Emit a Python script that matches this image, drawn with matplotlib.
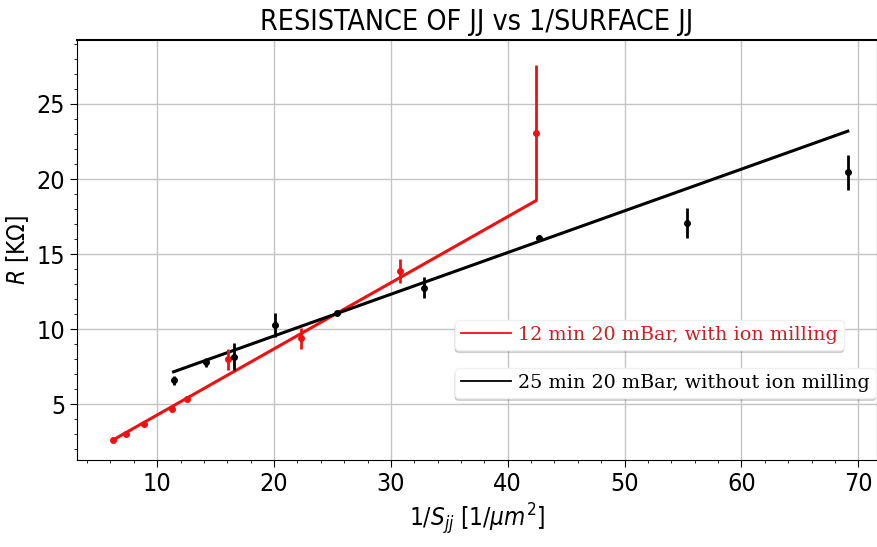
import matplotlib.pyplot as plt
import numpy as np

plt.rcParams['mathtext.fontset'] = 'custom'
plt.rcParams['mathtext.rm'] = 'DejaVu Sans:stretch=condensed'
plt.rcParams['mathtext.it'] = 'DejaVu Sans:style=italic:stretch=condensed'

# with ion milling (red)
x_red = [6.2, 7.35, 8.9, 11.3, 12.55, 16.1, 22.3, 30.8, 42.4]
r_red = [2.6, 3.0, 3.67, 4.69, 5.31, 8.0, 9.4, 13.9, 23.1]
e_red = [0.1, 0.1, 0.15, 0.1, 0.1, 0.7, 0.7, 0.8, 4.5]
fit_red = [0.4406, -0.13]   # slope, intercept

# without ion milling (black)
x_blk = [11.4, 14.2, 16.6, 20.1, 25.4, 32.8, 42.7, 55.3, 69.1]
r_blk = [6.6, 7.8, 8.15, 10.3, 11.07, 12.75, 16.05, 17.05, 20.45]
e_blk = [0.3, 0.3, 0.9, 0.8, 0.15, 0.7, 0.15, 1.0, 1.15]
fit_blk = [0.278, 3.98]

fig = plt.figure(figsize=(8.77, 5.47), dpi=100)
ax = fig.add_axes([0.088, 0.159, 0.912, 0.768])

xr = np.array([min(x_red), max(x_red)])
xb = np.array([min(x_blk), max(x_blk)])
l1, = ax.plot(xr, fit_red[0] * xr + fit_red[1], color='#f01010', lw=2.2)
l2, = ax.plot(xb, fit_blk[0] * xb + fit_blk[1], color='black', lw=2.2)
ax.errorbar(x_red, r_red, yerr=e_red, fmt='o', color='#f01010', ms=4, elinewidth=2, capsize=0)
ax.errorbar(x_blk, r_blk, yerr=e_blk, fmt='o', color='black', ms=4, elinewidth=2, capsize=0)

ax.set_xlim(3.15, 71.6)
ax.set_ylim(1.27, 29.27)
ax.minorticks_on()
ax.grid(True, which='major', color='#c4c4c4', lw=1.0)
ax.tick_params(axis='both', which='major', labelsize=18, length=5)
for lab in ax.get_xticklabels() + ax.get_yticklabels():
    lab.set_fontstretch('condensed')
ax.spines['top'].set_linewidth(1.5)

ax.set_title('RESISTANCE OF JJ vs 1/SURFACE JJ', fontsize=20.5, fontstretch='condensed', pad=7)
ax.set_xlabel(r'$1/S_{jj}$ $[1/\mu m^2]$', fontsize=17.5, fontstretch='condensed')
ax.set_ylabel(r'$R$ [K$\Omega$]', fontsize=17.5, fontstretch='condensed')

shadow = {'ox': 0, 'oy': -2, 'alpha': 0.2}
leg1 = ax.legend([l1], ['12 min 20 mBar, with ion milling'], loc='upper left',
                 bbox_to_anchor=(0.4725, 0.333), borderaxespad=0, handlelength=2.6,
                 handletextpad=0.4, prop={'family': 'DejaVu Serif', 'size': 13.8},
                 framealpha=1, edgecolor='#f0f0f0', shadow=shadow, borderpad=0.3)
for t in leg1.get_texts():
    t.set_color('#cc2020')
leg1.get_lines()[0].set_linewidth(1.3)
ax.add_artist(leg1)
leg2 = ax.legend([l2], ['25 min 20 mBar, without ion milling'], loc='upper left',
                 bbox_to_anchor=(0.4725, 0.219), borderaxespad=0, handlelength=2.6,
                 handletextpad=0.4, prop={'family': 'DejaVu Serif', 'size': 13.8},
                 framealpha=1, edgecolor='#f0f0f0', shadow=shadow, borderpad=0.3)
leg2.get_lines()[0].set_linewidth(1.3)

fig.savefig('out.png', dpi=100)
